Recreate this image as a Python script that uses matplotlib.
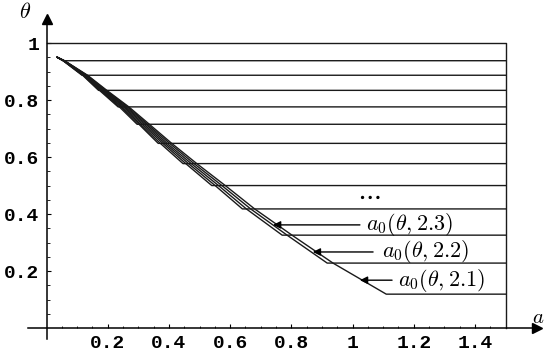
import matplotlib

matplotlib.use("Agg")
import matplotlib.pyplot as plt

plt.rcParams["mathtext.fontset"] = "cm"

# theta level where each curve a0(theta, lambda) stops (first entry = common start)
theta_levels = [0.950, 0.938, 0.887, 0.834, 0.776, 0.715, 0.648, 0.577, 0.500, 0.418, 0.326, 0.228, 0.119]

# a-values of each curve at the theta levels above (lambda = 3.2 ... 2.1)
curve_x = [
    [0.035, 0.054],
    [0.035, 0.054, 0.116],
    [0.035, 0.055, 0.118, 0.170],
    [0.035, 0.055, 0.120, 0.173, 0.234],
    [0.035, 0.056, 0.121, 0.176, 0.238, 0.296],
    [0.035, 0.056, 0.123, 0.179, 0.243, 0.302, 0.365],
    [0.035, 0.057, 0.125, 0.182, 0.247, 0.307, 0.372, 0.446],
    [0.035, 0.057, 0.127, 0.185, 0.252, 0.313, 0.380, 0.455, 0.540],
    [0.035, 0.057, 0.129, 0.188, 0.256, 0.319, 0.387, 0.464, 0.551, 0.640],
    [0.035, 0.058, 0.130, 0.191, 0.260, 0.325, 0.394, 0.473, 0.562, 0.653, 0.770],
    [0.035, 0.058, 0.132, 0.194, 0.265, 0.330, 0.402, 0.482, 0.573, 0.667, 0.786, 0.917],
    [0.035, 0.059, 0.134, 0.197, 0.269, 0.336, 0.409, 0.491, 0.584, 0.680, 0.802, 0.936, 1.110],
]
a_max = 1.5
theta_top = 1.0

x_ticks = [0.2, 0.4, 0.6, 0.8, 1.0, 1.2, 1.4]
x_tick_labels = ["0.2", "0.4", "0.6", "0.8", "1", "1.2", "1.4"]
y_ticks = [0.2, 0.4, 0.6, 0.8, 1.0]
y_tick_labels = ["0.2", "0.4", "0.6", "0.8", "1"]
x_minor = [i * 0.05 for i in range(1, 30)]
y_minor = [i * 0.05 for i in range(1, 21)]

curve_labels = [r"$a_0(\theta, 2.3)$", r"$a_0(\theta, 2.2)$", r"$a_0(\theta, 2.1)$"]


def main():
    fig = plt.figure(figsize=(5.46, 3.58), dpi=100)
    ax = fig.add_axes([0, 0, 1, 1])
    ax.set_xlim(-0.152, 1.632)
    ax.set_ylim(-0.105, 1.151)

    line_kw = dict(color="#1a1a1a", lw=1.0, solid_joinstyle="round")
    for xs in curve_x:
        n = len(xs)
        ax.plot(xs + [a_max], theta_levels[:n] + [theta_levels[n - 1]], **line_kw)
    ax.plot([0, a_max, a_max], [theta_top, theta_top, 0], **line_kw)

    # axes through the origin
    for side in ("top", "right"):
        ax.spines[side].set_visible(False)
    ax.spines["left"].set_position(("data", 0))
    ax.spines["bottom"].set_position(("data", 0))
    ax.spines["left"].set_bounds(-0.04, 1.08)
    ax.spines["bottom"].set_bounds(-0.06, 1.59)
    for side in ("left", "bottom"):
        ax.spines[side].set_linewidth(1.1)
    ax.plot(1.603, 0, marker=">", ms=7, color="black", clip_on=False)
    ax.plot(0, 1.085, marker="^", ms=7, color="black", clip_on=False)

    ax.set_xticks(x_ticks)
    ax.set_xticklabels(x_tick_labels)
    ax.set_yticks(y_ticks)
    ax.set_yticklabels(y_tick_labels)
    ax.set_xticks(x_minor, minor=True)
    ax.set_yticks(y_minor, minor=True)
    ax.tick_params(which="major", direction="in", length=3, width=0.8,
                   labelsize=14, labelfontfamily="Liberation Mono")
    ax.tick_params(which="minor", direction="in", length=1.8, width=0.6)
    ax.tick_params(axis="x", which="major", pad=5)
    ax.tick_params(axis="y", which="major", pad=5)
    for lab in ax.get_xticklabels() + ax.get_yticklabels():
        lab.set_fontweight("bold")

    ax.text(-0.07, 1.109, r"$\theta$", fontsize=16, ha="center", va="center")
    ax.text(1.607, 0.039, r"$a$", fontsize=15, ha="center", va="center")

    ax.text(1.053, 0.462, r"$\cdots$", fontsize=19, ha="center", va="center")
    label_spots = [(1.043, 0.362, 0.74, 1.024), (1.097, 0.267, 0.87, 1.067), (1.149, 0.168, 1.024, 1.129)]
    for text, (tx, ty, tip, tail) in zip(curve_labels, label_spots):
        ax.text(tx, ty, text, fontsize=16, ha="left", va="center")
        ax.annotate("", xy=(tip, ty), xytext=(tail, ty),
                    arrowprops=dict(arrowstyle="-|>", color="black", lw=1.0,
                                    mutation_scale=11, shrinkA=0, shrinkB=0))

    fig.savefig("out.png", dpi=100)


if __name__ == "__main__":
    main()
